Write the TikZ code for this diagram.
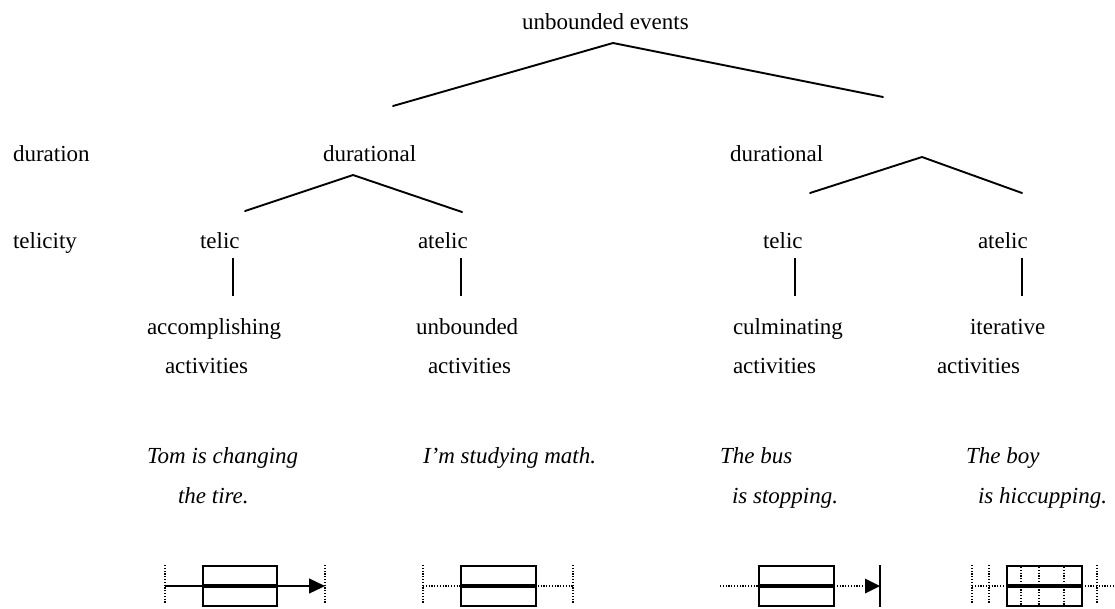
\documentclass[tikz,border=0pt]{standalone}
\usepackage{fontspec}
\setmainfont{Liberation Serif}
\usetikzlibrary{arrows.meta}
\begin{document}
\begin{tikzpicture}[x=1pt,y=-1pt,
  lbl/.style={anchor=base west,inner sep=0pt,outer sep=0pt,font=\fontsize{23}{27}\selectfont},
  ex/.style={lbl,font=\fontsize{23}{27}\selectfont\itshape},
  branch/.style={line width=1.9pt,line cap=round},
  stem/.style={line width=1.6pt},
  dots/.style={line width=1.5pt,dash pattern=on 1.2pt off 1.6pt},
  boxline/.style={line width=1.7pt},
  thick line/.style={line width=4.5pt},
  tip/.style={-{Triangle[length=16pt,width=15pt]}}
]
\useasboundingbox (0,0) rectangle (1115,608);
% labels
\node[lbl] (ue) at (522,29) {unbounded events};
\node[lbl] (dur) at (13,161) {duration};
\node[lbl] (durL) at (323,161) {durational};
\node[lbl] (durR) at (730,161) {durational};
\node[lbl] (tel) at (13,248) {telicity};
\node[lbl] (telL) at (200,248) {telic};
\node[lbl] (atL) at (418,248) {atelic};
\node[lbl] (telR) at (763,248) {telic};
\node[lbl] (atR) at (978,248) {atelic};
\node[lbl] (acc) at (147,334) {accomplishing};
\node[lbl] (unb) at (416,334) {unbounded};
\node[lbl] (cul) at (733,334) {culminating};
\node[lbl] (ite) at (970,334) {iterative};
\node[lbl] (act1) at (165,373) {activities};
\node[lbl] (act2) at (428,373) {activities};
\node[lbl] (act3) at (733,373) {activities};
\node[lbl] (act4) at (937,373) {activities};
\node[ex] (e1a) at (147,463) {Tom is changing};
\node[ex] (e1b) at (178,503) {the tire.};
\node[ex] (e2a) at (423,463) {I’m studying math.};
\node[ex] (e3a) at (720,463) {The bus};
\node[ex] (e3b) at (732,503) {is stopping.};
\node[ex] (e4a) at (966,463) {The boy};
\node[ex] (e4b) at (978,503) {is hiccupping.};
% tree branch points
\coordinate (apex0) at (613,43);
\coordinate (l0) at (393,106);
\coordinate (r0) at (883,97);
\coordinate (apexL) at (353,175);
\coordinate (lL) at (245,211);
\coordinate (rL) at (462,212);
\coordinate (apexR) at (922,157);
\coordinate (lR) at (810,193);
\coordinate (rR) at (1022,193);
\draw[branch] (l0) -- (apex0) -- (r0);
\draw[branch] (lL) -- (apexL) -- (rL);
\draw[branch] (lR) -- (apexR) -- (rR);
% stems
\coordinate (s1t) at (233,258); \coordinate (s1b) at (233,296);
\coordinate (s2t) at (461,258); \coordinate (s2b) at (461,296);
\coordinate (s3t) at (795,258); \coordinate (s3b) at (795,296);
\coordinate (s4t) at (1022,258); \coordinate (s4b) at (1022,296);
\draw[stem] (s1t) -- (s1b);
\draw[stem] (s2t) -- (s2b);
\draw[stem] (s3t) -- (s3b);
\draw[stem] (s4t) -- (s4b);
% icon 1
\draw[dots] (165,565) -- (165,604);
\draw[dots] (325,565) -- (325,604);
\draw[line width=1.3pt,tip] (165,586) -- (325,586);
\draw[boxline,fill=white] (203,566) rectangle (277,606);
\draw[thick line] (203,586) -- (277,586);
% icon 2
\draw[dots] (423,565) -- (423,604);
\draw[dots] (573,565) -- (573,604);
\draw[dots] (423,586) -- (573,586);
\draw[boxline,fill=white] (461,566) rectangle (536,606);
\draw[thick line] (461,586) -- (536,586);
% icon 3
\draw[dots] (720,586) -- (759,586);
\draw[dots] (834,586) -- (866,586);
\fill (865,578.5) -- (880,586) -- (865,593.5) -- cycle;
\draw[line width=1.7pt] (880,565) -- (880,607);
\draw[boxline,fill=white] (759,566) rectangle (834,606);
\draw[thick line] (759,586) -- (834,586);
% icon 4
\draw[dots] (972,565) -- (972,604);
\draw[dots] (989,565) -- (989,604);
\draw[dots] (1097,565) -- (1097,604);
\draw[dots] (972,586) -- (1007,586);
\draw[dots] (1082,586) -- (1113,586);
\draw[boxline,fill=white] (1007,566) rectangle (1082,606);
\draw[dots] (1021,567) -- (1021,605);
\draw[dots] (1039,567) -- (1039,605);
\draw[dots] (1064,567) -- (1064,605);
\draw[thick line] (1007,586) -- (1082,586);
\end{tikzpicture}
\end{document}
